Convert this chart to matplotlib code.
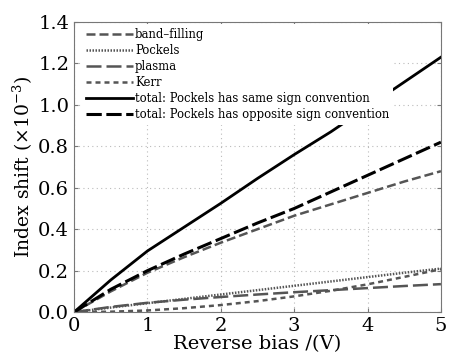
import numpy as np
import matplotlib
matplotlib.use('Agg')
import matplotlib.pyplot as plt

plt.rcParams['font.family'] = 'DejaVu Serif'
plt.rcParams['mathtext.fontset'] = 'dejavuserif'

# Reverse bias (V)
bias = [0, 0.5, 1, 1.5, 2, 2.5, 3, 3.5, 4, 4.5, 5]

# Index shift (x1e-3) for each contribution
band_filling = [0, 0.10, 0.19, 0.265, 0.335, 0.40, 0.465, 0.52, 0.575, 0.63, 0.68]
pockels = [0, 0.022, 0.043, 0.064, 0.085, 0.106, 0.127, 0.148, 0.169, 0.19, 0.21]
plasma = [0, 0.025, 0.045, 0.06, 0.073, 0.085, 0.096, 0.106, 0.116, 0.126, 0.135]
kerr = [0, 0.002, 0.008, 0.019, 0.034, 0.053, 0.076, 0.103, 0.134, 0.17, 0.207]
total_same = [0, 0.155, 0.295, 0.41, 0.525, 0.645, 0.76, 0.87, 0.99, 1.11, 1.23]
total_opp = [0, 0.11, 0.20, 0.28, 0.355, 0.43, 0.50, 0.58, 0.66, 0.74, 0.82]

gray = '#555555'

fig = plt.figure(figsize=(4.49, 3.60), dpi=100)
ax = fig.add_axes([0.165, 0.133, 0.817, 0.806])

ax.plot(bias, band_filling, color=gray, lw=1.8, ls=(0, (3.6, 1.6)), label='band\u2013filling')
ax.plot(bias, pockels, color=gray, lw=1.8, ls=(0, (0.6, 0.6)), label='Pockels')
ax.plot(bias, plasma, color=gray, lw=1.8, ls=(0, (6, 2)), label='plasma')
ax.plot(bias, kerr, color=gray, lw=1.8, ls=(0, (2, 1.6)), label='Kerr')
ax.plot(bias, total_same, color='black', lw=2, ls='-', label='total: Pockels has same sign convention')
ax.plot(bias, total_opp, color='black', lw=2.2, ls=(0, (5, 1.5)), label='total: Pockels has opposite sign convention')

ax.set_xlim(0, 5)
ax.set_ylim(0, 1.4)
ax.set_xticks([0, 1, 2, 3, 4, 5])
ax.set_yticks([0.0, 0.2, 0.4, 0.6, 0.8, 1.0, 1.2, 1.4])
ax.set_yticklabels(['0.0', '0.2', '0.4', '0.6', '0.8', '1.0', '1.2', '1.4'])
ax.tick_params(direction='in', top=True, right=True, labelsize=14, color='#777777', length=3)
ax.grid(True, color='#bbbbbb', ls=(0, (1, 3)), lw=0.8)
for s in ax.spines.values():
    s.set_color('#777777')

ax.set_xlabel('Reverse bias /(V)', fontsize=14, labelpad=0)
ax.set_ylabel('Index shift ($\\times10^{-3}$)', fontsize=13.5, labelpad=2)

leg = ax.legend(loc='upper left', bbox_to_anchor=(0.015, 1.0), frameon=True,
                fontsize=8.4, handlelength=4.0, handletextpad=0.2,
                labelspacing=0.25, borderaxespad=0.2, borderpad=0.35,
                fancybox=False, framealpha=1)
leg.get_frame().set_facecolor('white')
leg.get_frame().set_edgecolor('none')

fig.savefig('out.png', dpi=100)
